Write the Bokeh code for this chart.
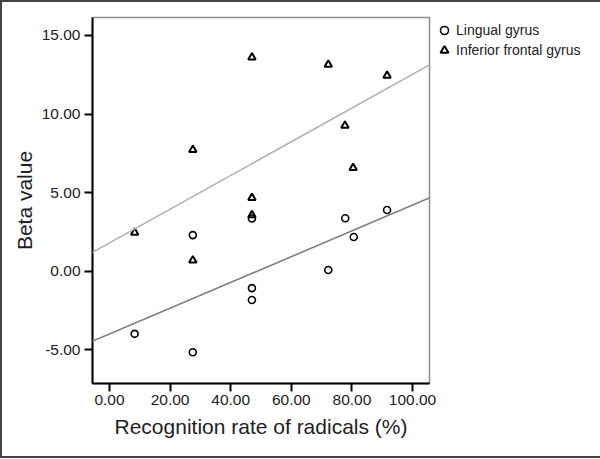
from bokeh.plotting import figure
from bokeh.models import (Range1d, FixedTicker, NumeralTickFormatter, Slope,
                          Legend, LegendItem)
from bokeh.embed import file_html
from bokeh.resources import INLINE

# ---- data ----
x_lingual = [8.3, 27.5, 27.5, 47.0, 47.0, 47.0, 72.2, 77.8, 80.6, 91.6]
y_lingual = [-3.98, -5.15, 2.30, -1.07, -1.83, 3.36, 0.08, 3.37, 2.18, 3.90]
x_ifg = [8.3, 27.5, 27.5, 47.0, 47.0, 47.0, 72.2, 77.7, 80.4, 91.6]
y_ifg = [2.46, 7.72, 0.70, 13.61, 4.67, 3.58, 13.15, 9.27, 6.58, 12.45]

# fit lines (intercept, slope) as drawn in the picture
fit_lingual = (-3.99, 0.0820)
fit_ifg = (1.81, 0.1072)

x_ticks = [0, 20, 40, 60, 80, 100]
y_ticks = [-5, 0, 5, 10, 15]
series_names = ["Lingual gyrus", "Inferior frontal gyrus"]

FONT = "Liberation Sans"

p = figure(frame_width=337, frame_height=366, output_backend="svg",
           toolbar_location=None,
           x_range=Range1d(-5.61, 105.6), y_range=Range1d(-7.14, 16.145),
           min_border_left=90, min_border_right=167,
           min_border_top=15, min_border_bottom=73)

p.background_fill_color = "white"
p.border_fill_color = "white"
p.grid.visible = False
p.outline_line_color = "#8c8c8c"
p.outline_line_width = 1.5
p.styles = {"border": "2px solid #444444", "box-sizing": "content-box"}

for ax in (p.xaxis[0], p.yaxis[0]):
    ax.axis_line_color = "black"
    ax.axis_line_width = 2
    ax.major_tick_line_color = "black"
    ax.major_tick_line_width = 2
    ax.major_tick_in = 0
    ax.major_tick_out = 8
    ax.minor_tick_line_color = None
    ax.major_label_text_font = FONT
    ax.major_label_text_font_size = "15.5px"
    ax.major_label_text_color = "#222222"
    ax.axis_label_text_font = FONT
    ax.axis_label_text_font_size = "21px"
    ax.axis_label_text_font_style = "normal"
    ax.axis_label_text_color = "#222222"
    ax.formatter = NumeralTickFormatter(format="0.00")

p.xaxis[0].ticker = FixedTicker(ticks=x_ticks)
p.yaxis[0].ticker = FixedTicker(ticks=y_ticks)
p.xaxis[0].axis_label = "Recognition rate of radicals (%)"
p.yaxis[0].axis_label = "Beta value"
p.xaxis[0].major_label_standoff = 3
p.xaxis[0].axis_label_standoff = 7
p.yaxis[0].major_label_standoff = 4
p.yaxis[0].axis_label_standoff = 3

# fit lines
p.add_layout(Slope(gradient=fit_ifg[1], y_intercept=fit_ifg[0],
                   line_color="#b3b3b3", line_width=1.6))
p.add_layout(Slope(gradient=fit_lingual[1], y_intercept=fit_lingual[0],
                   line_color="#808080", line_width=1.6))

r_ling = p.scatter(x_lingual, y_lingual, marker="circle", size=7,
                   fill_color=None, line_color="black", line_width=1.6)
r_ifg = p.scatter(x_ifg, y_ifg, marker="triangle", size=7.5,
                  fill_color=None, line_color="black", line_width=2)

legend = Legend(items=[LegendItem(label=series_names[0], renderers=[r_ling]),
                       LegendItem(label=series_names[1], renderers=[r_ifg])],
                location="top_left", orientation="vertical")
legend.glyph_width = 24
legend.glyph_height = 20
legend.label_height = 20
legend.spacing = 0
legend.padding = 4
legend.margin = 3
legend.label_standoff = 0
legend.border_line_color = None
legend.background_fill_alpha = 0
legend.label_text_font = FONT
legend.label_text_font_size = "14px"
legend.label_text_color = "#222222"
p.add_layout(legend, "right")

open("out.html", "w").write(file_html(p, INLINE))
